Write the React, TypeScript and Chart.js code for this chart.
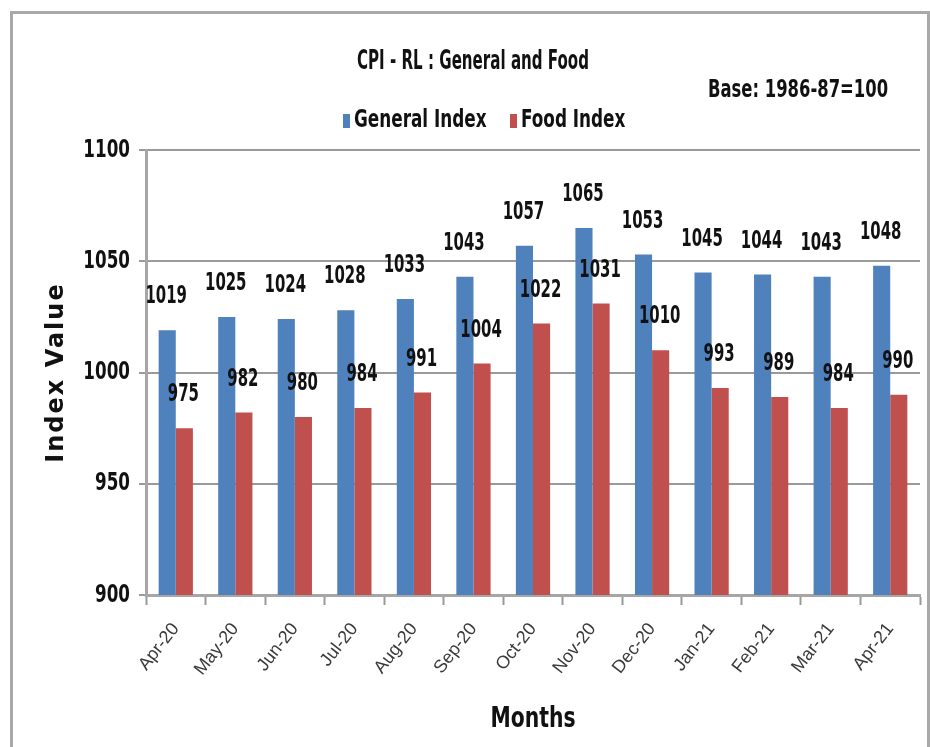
import React, { useEffect, useRef } from "react";
import { Chart, registerables } from "chart.js";

Chart.register(...registerables);

const months = ["Apr-20", "May-20", "Jun-20", "Jul-20", "Aug-20", "Sep-20", "Oct-20", "Nov-20", "Dec-20", "Jan-21", "Feb-21", "Mar-21", "Apr-21"];
const generalIndex = [1019, 1025, 1024, 1028, 1033, 1043, 1057, 1065, 1053, 1045, 1044, 1043, 1048];
const foodIndex = [975, 982, 980, 984, 991, 1004, 1022, 1031, 1010, 993, 989, 984, 990];
const yMin = 900;
const yMax = 1100;
const yStep = 50;
const chartTitle = "CPI - RL : General and Food";
const baseNote = "Base: 1986-87=100";
const seriesNames = ["General Index", "Food Index"];
const seriesColors = ["#4F81BD", "#C0504D"];
const xTitle = "Months";
const yTitle = "Index Value";

const NARROW = '"DejaVu Sans Condensed", "Liberation Sans", sans-serif';

function squeezeText(ctx: CanvasRenderingContext2D, text: string, x: number, y: number, align: CanvasTextAlign, sx: number) {
  ctx.save();
  ctx.translate(x, y);
  ctx.scale(sx, 1);
  ctx.textAlign = align;
  ctx.fillText(text, 0, 0);
  ctx.restore();
}

const decorPlugin = {
  id: "decor",
  beforeDraw(chart: any) {
    const ctx = chart.ctx;
    ctx.save();
    ctx.fillStyle = "#ffffff";
    ctx.fillRect(0, 0, chart.width, chart.height);
    ctx.strokeStyle = "#a9a9a9";
    ctx.lineWidth = 3;
    ctx.strokeRect(11.5, 12.5, 917, 760);
    ctx.restore();
  },
  afterDatasetsDraw(chart: any) {
    const ctx = chart.ctx;
    ctx.save();
    ctx.fillStyle = "#111111";
    ctx.font = `bold 24px ${NARROW}`;
    ctx.textBaseline = "bottom";
    chart.data.datasets.forEach((ds: any, i: number) => {
      const meta = chart.getDatasetMeta(i);
      meta.data.forEach((bar: any, j: number) => {
        squeezeText(ctx, String(ds.data[j]), bar.x - 1, bar.y - 21, "center", 0.69);
      });
    });
    ctx.restore();
  },
  afterDraw(chart: any) {
    const ctx = chart.ctx;
    const area = chart.chartArea;
    ctx.save();
    ctx.fillStyle = "#111111";
    ctx.textBaseline = "middle";
    ctx.font = `bold 26px ${NARROW}`;
    squeezeText(ctx, chartTitle, 473, 62, "center", 0.645);
    ctx.font = `bold 24px ${NARROW}`;
    squeezeText(ctx, baseNote, 708, 91, "left", 0.76);
    // legend
    const legendX = [343, 510];
    chart.data.datasets.forEach((ds: any, i: number) => {
      const x = legendX[i];
      ctx.fillStyle = ds.backgroundColor;
      ctx.fillRect(x, 114, 7, 14);
      ctx.fillStyle = "#111111";
      ctx.font = `bold 24px ${NARROW}`;
      squeezeText(ctx, ds.label, x + 11, 121, "left", 0.78);
    });
    // y tick labels
    const ys = chart.scales.y;
    ctx.font = `bold 25px ${NARROW}`;
    ys.ticks.forEach((t: any) => {
      squeezeText(ctx, String(t.value), ys.right - 16, ys.getPixelForValue(t.value), "right", 0.745);
    });
    // y axis title
    ctx.save();
    ctx.translate(57, (area.top + area.bottom) / 2);
    ctx.rotate(-Math.PI / 2);
    ctx.font = `bold 24px "DejaVu Sans", sans-serif`;
    try { (ctx as any).letterSpacing = "2px"; } catch (e) {}
    ctx.textAlign = "center";
    ctx.fillText(yTitle, 0, 0);
    ctx.restore();
    // x axis title
    ctx.font = `bold 29px ${NARROW}`;
    squeezeText(ctx, xTitle, (area.left + area.right) / 2, 719, "center", 0.78);
    ctx.restore();
  },
};

export default function App() {
  const ref = useRef<HTMLCanvasElement | null>(null);
  useEffect(() => {
    if (!ref.current) return;
    const chart = new Chart(ref.current, {
      type: "bar",
      data: {
        labels: months,
        datasets: [
          { label: seriesNames[0], data: generalIndex, backgroundColor: seriesColors[0], borderWidth: 0 },
          { label: seriesNames[1], data: foodIndex, backgroundColor: seriesColors[1], borderWidth: 0 },
        ],
      },
      options: {
        animation: false,
        responsive: false,
        maintainAspectRatio: false,
        devicePixelRatio: 1,
        layout: { padding: { top: 150, left: 30, right: 10, bottom: 10 } },
        plugins: {
          legend: { display: false },
          title: { display: false },
          tooltip: { enabled: false },
        },
        datasets: {
          bar: { categoryPercentage: 0.575, barPercentage: 1.0 },
        },
        scales: {
          x: {
            grid: {
              display: true,
              offset: true,
              drawOnChartArea: false,
              drawTicks: true,
              tickLength: 10,
              tickColor: "#9a9a9a",
              tickWidth: 2,
            },
            border: { display: true, color: "#a6a6a6", width: 3 },
            ticks: {
              minRotation: 52,
              maxRotation: 52,
              padding: 14,
              color: "#3a3a3a",
              font: { family: '"Liberation Sans", sans-serif', size: 18 },
              autoSkip: false,
            },
            title: { display: false, text: xTitle },
            afterFit(scale: any) {
              scale.height = 142;
            },
          },
          y: {
            min: yMin,
            max: yMax,
            ticks: {
              stepSize: yStep,
              padding: 9,
              color: "rgba(0,0,0,0)",
              font: { family: NARROW, size: 23, weight: "bold" },
              callback: (v: any) => String(v),
            },
            grid: {
              color: "#9a9a9a",
              lineWidth: 2,
              tickLength: 7,
              drawTicks: true,
            },
            border: { display: true, color: "#a6a6a6", width: 3 },
            title: { display: false, text: yTitle },
            afterFit(scale: any) {
              scale.width = 116;
            },
          },
        },
      },
      plugins: [decorPlugin],
    });
    return () => chart.destroy();
  }, []);
  return (
    <div style={{ position: "absolute", left: 0, top: 0, width: 930, height: 747, background: "#fff" }}>
      <canvas ref={ref} width={930} height={747} style={{ display: "block", width: 930, height: 747 }} />
    </div>
  );
}
